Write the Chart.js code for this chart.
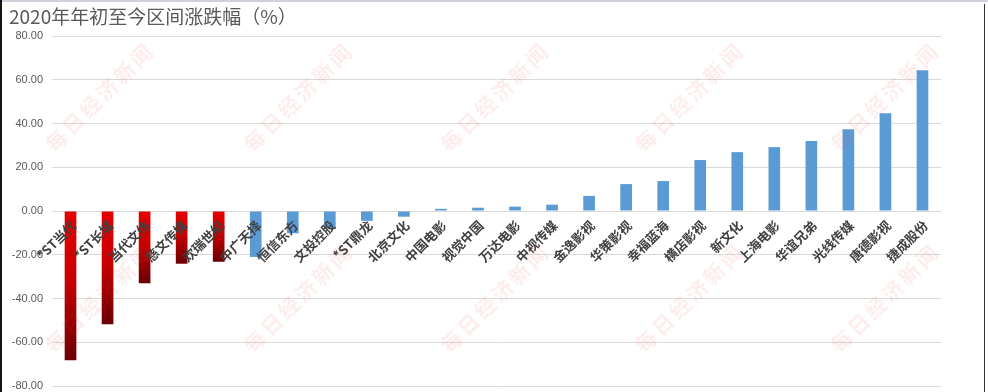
<!DOCTYPE html>
<html>
<head>
<meta charset="utf-8">
<script src="https://cdn.jsdelivr.net/npm/chart.js@4"></script>
<style>
  html, body { margin: 0; padding: 0; background: #fff; }
  #wrap { position: relative; width: 988px; height: 392px; overflow: hidden; }
  #myChart { position: absolute; left: 0; top: 0; }
  .edge { position: absolute; }
</style>
</head>
<body>
<div id="wrap">
  <canvas id="myChart" width="988" height="392"></canvas>
  <div class="edge" style="left:0;top:0;width:988px;height:2px;background:#cdd1d8"></div>
  <div class="edge" style="left:0;top:0;width:2px;height:392px;background:#151515"></div>
  <div class="edge" style="left:984px;top:4px;width:1px;height:388px;background:#333"></div>
</div>
<script>
  // 数据
  var titleText = '2020年年初至今区间涨跌幅（%）';
  var stocks = ['*ST当代', '*ST长城', '当代文体', '慈文传媒', '欢瑞世纪', '中广天择', '恒信东方', '文投控股',
    '*ST鼎龙', '北京文化', '中国电影', '视觉中国', '万达电影', '中视传媒', '金逸影视', '华策影视',
    '幸福蓝海', '横店影视', '新文化', '上海电影', '华谊兄弟', '光线传媒', '唐德影视', '捷成股份'];
  var changes = [-68.2, -51.8, -33.0, -24.1, -23.2, -21.0, -10.2, -7.8,
    -4.5, -2.6, 1.0, 1.5, 2.0, 2.9, 6.9, 12.3,
    13.7, 23.3, 26.9, 29.2, 32.0, 37.4, 44.7, 64.4];
  var yTicks = [80, 60, 40, 20, 0, -20, -40, -60, -80];
  var redCount = 5; // 前五只用红色
  var watermark = '每日经济新闻';

  var blue = '#5b9bd5';

  function barColor(context) {
    if (context.dataIndex >= redCount) return blue;
    var chart = context.chart;
    if (!chart.chartArea || !chart.scales.y) return '#c00000';
    var y = chart.scales.y;
    var y0 = y.getPixelForValue(0);
    var y1 = y.getPixelForValue(changes[context.dataIndex]);
    var g = chart.ctx.createLinearGradient(0, y0, 0, y1);
    g.addColorStop(0, '#e60000');
    g.addColorStop(0.45, '#c90000');
    g.addColorStop(1, '#6a0004');
    return g;
  }

  // 标题、标签、水印
  var extras = {
    id: 'extras',
    afterDatasetsDraw: function(chart) {
      var ctx = chart.ctx;
      var x = chart.scales.x, y = chart.scales.y;
      var y0 = y.getPixelForValue(0);
      ctx.save();
      ctx.font = 'bold 13px "Noto Sans CJK SC"';
      ctx.fillStyle = '#404040';
      ctx.textAlign = 'right';
      ctx.textBaseline = 'middle';
      stocks.forEach(function(name, i) {
        ctx.save();
        ctx.translate(x.getPixelForValue(i) + 3, y0 + 12);
        ctx.rotate(-Math.PI / 4);
        ctx.fillText(name, 0, 0);
        ctx.restore();
      });
      ctx.restore();

      // 水印
      ctx.save();
      ctx.font = 'bold 21px "Noto Sans CJK SC"';
      ctx.fillStyle = 'rgba(235, 60, 60, 0.09)';
      ctx.textAlign = 'center';
      ctx.textBaseline = 'middle';
      if ('letterSpacing' in ctx) ctx.letterSpacing = '3px';
      var w = chart.width;
      [0.101, 0.302, 0.501, 0.698, 0.896].forEach(function(fx) {
        [97, 298].forEach(function(py) {
          ctx.save();
          ctx.translate(w * fx, py);
          ctx.rotate(-Math.PI / 4);
          ctx.fillText(watermark, 0, 0);
          ctx.restore();
        });
      });
      ctx.restore();
    },
    afterDraw: function(chart) {
      var ctx = chart.ctx;
      ctx.save();
      ctx.font = '19px "Noto Sans CJK SC"';
      ctx.fillStyle = '#595959';
      ctx.textAlign = 'left';
      ctx.textBaseline = 'middle';
      ctx.fillText(titleText, 9, 17);
      ctx.restore();
    }
  };

  var ctx = document.getElementById('myChart').getContext('2d');
  var myChart = new Chart(ctx, {
    type: 'bar',
    data: {
      labels: stocks,
      datasets: [{
        label: '涨跌幅',
        data: changes,
        backgroundColor: barColor,
        borderWidth: 0,
        categoryPercentage: 1,
        barPercentage: 0.315
      }]
    },
    options: {
      responsive: false,
      animation: false,
      layout: { padding: { top: 36, right: 47, bottom: 6, left: 0 } },
      plugins: {
        legend: { display: false },
        tooltip: { enabled: false }
      },
      scales: {
        x: { display: false },
        y: {
          min: -80,
          max: 80,
          afterFit: function(scale) {
            scale.width = 52;
            scale.paddingTop = 0;
            scale.paddingBottom = 0;
          },
          afterBuildTicks: function(scale) {
            scale.ticks = yTicks.map(function(v) { return { value: v }; });
          },
          border: { display: false },
          grid: { color: '#d9d9d9', drawTicks: false, lineWidth: 1 },
          ticks: {
            padding: 9,
            color: '#595959',
            font: { family: '"Liberation Sans", Arial, sans-serif', size: 11 },
            callback: function(v) { return Number(v).toFixed(2); }
          }
        }
      }
    },
    plugins: [extras]
  });
</script>
</body>
</html>
